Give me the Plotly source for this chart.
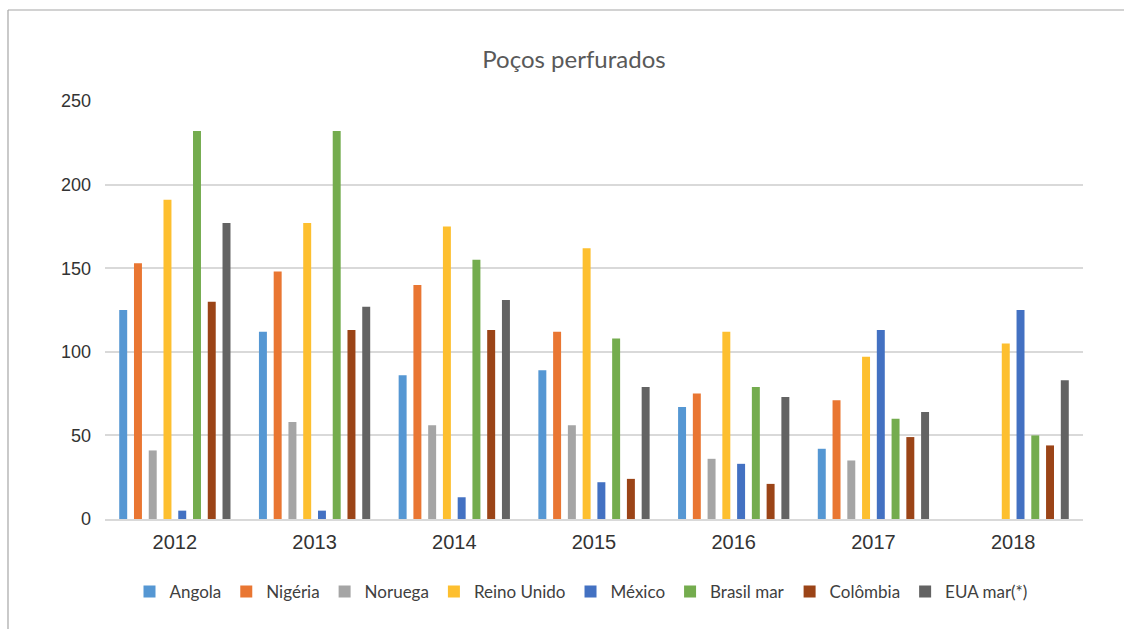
import plotly.graph_objects as go

years = ["2012", "2013", "2014", "2015", "2016", "2017", "2018"]
angola = [125, 112, 86, 89, 67, 42, None]
nigeria = [153, 148, 140, 112, 75, 71, None]
noruega = [41, 58, 56, 56, 36, 35, None]
reino_unido = [191, 177, 175, 162, 112, 97, 105]
mexico = [5, 5, 13, 22, 33, 113, 125]
brasil_mar = [232, 232, 155, 108, 79, 60, 50]
colombia = [130, 113, 113, 24, 21, 49, 44]
eua_mar = [177, 127, 131, 79, 73, 64, 83]

series_names = ["Angola", "Nigéria", "Noruega", "Reino Unido", "México",
                "Brasil mar", "Colômbia", "EUA mar(*)"]
series_values = [angola, nigeria, noruega, reino_unido, mexico,
                 brasil_mar, colombia, eua_mar]
colors = ["#5597D3", "#E97632", "#A5A5A5", "#FDBF2F", "#4371C2",
          "#74AC4E", "#9B4417", "#636363"]
y_ticks = [0, 50, 100, 150, 200, 250]

W, H = 1124, 629
L, R, T, B = 105, 41, 101, 110
pw, ph = W - L - R, H - T - B

fig = go.Figure()
for name, vals, c in zip(series_names, series_values, colors):
    fig.add_trace(go.Bar(x=years, y=vals, name=name, marker_color=c,
                         marker_line_width=0))

def px2x(px):
    return (px - L) / pw

def py2y(py):
    return (H - B - py) / ph

fig.update_layout(
    width=W, height=H,
    margin=dict(l=L, r=R, t=T, b=B),
    paper_bgcolor="white", plot_bgcolor="white",
    barmode="group", bargap=0.155, bargroupgap=0.46,
    title=dict(text="Poços perfurados", x=574 / W, xanchor="center",
               y=1 - 60 / H, yanchor="middle", xref="container", yref="container",
               font=dict(family="Lato, Open Sans, sans-serif", size=24, color="#595959")),
    font=dict(family="Liberation Sans, Arial, sans-serif", color="#3a3a3a"),
    legend=dict(orientation="h", xanchor="center", x=px2x(581),
                yanchor="middle", y=py2y(592),
                font=dict(family="Lato, Open Sans, sans-serif", size=17, color="#404040"),
                itemclick=False, tracegroupgap=0),
    xaxis=dict(type="category", showgrid=False, showline=True,
               linecolor="#D9D9D9", linewidth=1.5, ticks="",
               tickfont=dict(size=20, color="#333333"), ticklabelstandoff=4),
    yaxis=dict(range=[0, 250], tickvals=y_ticks, showgrid=True,
               gridcolor="#D9D9D9", gridwidth=1.5, zeroline=False,
               showline=False, ticks="",
               tickfont=dict(size=18, color="#333333"), ticklabelstandoff=13),
    shapes=[
        dict(type="line", xref="paper", yref="paper",
             x0=px2x(8), x1=px2x(1130), y0=py2y(10), y1=py2y(10),
             line=dict(color="#A6A6A6", width=1.2)),
        dict(type="line", xref="paper", yref="paper",
             x0=px2x(8), x1=px2x(8), y0=py2y(10), y1=py2y(640),
             line=dict(color="#A6A6A6", width=1.2)),
    ],
)

fig.write_html("out.html")
